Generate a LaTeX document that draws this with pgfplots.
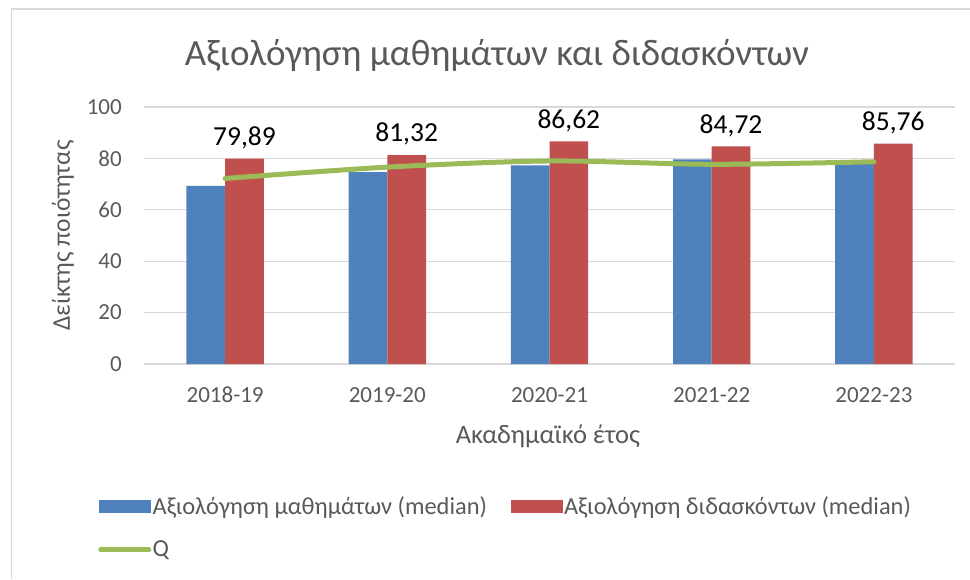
\documentclass[border=0pt]{standalone}
\usepackage{fontspec}
\setmainfont{Carlito}
\usepackage{pgfplots}
\pgfplotsset{compat=1.18}

\definecolor{cblue}{HTML}{4F81BD}
\definecolor{cred}{HTML}{C0504D}
\definecolor{cgreen}{HTML}{9BBB59}
\definecolor{ctext}{HTML}{595959}
\definecolor{cgrid}{HTML}{D9D9D9}

\begin{document}
\begin{tikzpicture}[x=1pt,y=1pt]
\useasboundingbox (0,0) rectangle (970,579);
\draw[cgrid, line width=1.5pt] (11.5,0) -- (11.5,570) -- (970,570);
\node[text=ctext, font=\fontsize{37}{42}\selectfont] at (497,524) {Αξιολόγηση μαθημάτων και διδασκόντων};
\begin{axis}[
    at={(144pt,215pt)}, anchor=south west,
    scale only axis,
    width=811pt, height=257pt,
    xmin=-0.5, xmax=4.5,
    ymin=0, ymax=100,
    xtick={0,1,2,3,4},
    xticklabels={2018-19, 2019-20, 2020-21, 2021-22, 2022-23},
    ytick={0,20,40,60,80,100},
    yticklabels={0,20,40,60,80,100},
    major tick length=0pt,
    axis line style={draw=none},
    ymajorgrids,
    grid style={cgrid, line width=1.3pt},
    tick label style={font=\fontsize{23}{28}\selectfont, text=ctext},
    xticklabel style={anchor=center, yshift=-31pt},
    yticklabel style={anchor=east, inner sep=0pt, xshift=-22pt},
    xlabel={Ακαδημαϊκό έτος},
    ylabel={Δείκτης ποιότητας},
    every axis x label/.style={at={(axis description cs:0.498,-0.28)}, anchor=center,
        font=\fontsize{26.5}{30}\selectfont, text=ctext},
    every axis y label/.style={at={(axis description cs:-0.0999,0.5)}, anchor=center, rotate=90,
        font=\fontsize{25.5}{30}\selectfont, text=ctext},
    legend columns=2,
    legend style={at={(axis description cs:-0.0567,-0.51)}, anchor=north west,
        draw=none, fill=none, inner sep=0pt,
        font=\fontsize{24.4}{29}\selectfont, text=ctext,
        nodes={inner sep=1.5pt, anchor=west},
        /tikz/every even column/.append style={column sep=22pt},
        row sep=22pt},
]
\addplot[ybar, bar width=38.7pt, bar shift=-19.35pt, fill=cblue, draw=none,
    legend image code/.code={\fill[cblue] (0pt,-6.5pt) rectangle (52pt,6.5pt);}]
    coordinates {(0,69.3) (1,74.7) (2,77.3) (3,79.6) (4,78.3)};
\addlegendentry{Αξιολόγηση μαθημάτων (median)}
\addplot[ybar, bar width=38.7pt, bar shift=19.35pt, fill=cred, draw=none,
    nodes near coords={\pgfmathprintnumber[fixed,fixed zerofill,precision=2,use comma,assume math mode=true]{\pgfplotspointmeta}},
    every node near coord/.append style={font=\fontsize{27.5}{32}\selectfont, text=black, xshift=19.35pt, yshift=6pt},
    legend image code/.code={\fill[cred] (0pt,-6.5pt) rectangle (52pt,6.5pt);}]
    coordinates {(0,79.89) (1,81.32) (2,86.62) (3,84.72) (4,85.76)};
\addlegendentry{Αξιολόγηση διδασκόντων (median)}
\addplot[cgreen, line width=5pt, smooth, line cap=round, mark=none,
    legend image code/.code={\draw[cgreen, line width=5pt, line cap=round] (2pt,0pt) -- (50pt,0pt);}]
    coordinates {(0,72.2) (1,76.6) (2,79.0) (3,77.7) (4,78.7)};
\addlegendentry{Q}
\end{axis}
\end{tikzpicture}
\end{document}
